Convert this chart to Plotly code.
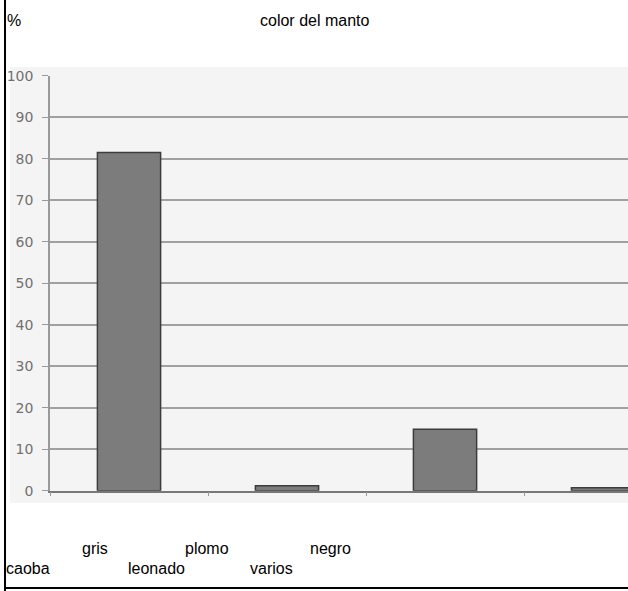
import plotly.graph_objects as go

# Bar heights (%) for the four bars of "color del manto"
bar_slots = ["1", "2", "3", "4"]
bar_values = [81.5, 1.2, 14.8, 0.7]

# Y tick values
y_ticks = [0, 10, 20, 30, 40, 50, 60, 70, 80, 90, 100]

# Category names printed under the chart, in two staggered rows
labels_top = ["gris", "plomo", "negro"]
labels_bottom = ["caoba", "leonado", "varios"]

W, H = 628, 591


def px_x(x):
    return x / W


def px_y(y):
    return 1 - y / H


fig = go.Figure()
fig.add_trace(go.Bar(
    x=bar_slots,
    y=bar_values,
    width=0.4,
    marker=dict(color="#7c7c7c", line=dict(color="#3c3c3c", width=1.5)),
    hoverinfo="skip",
))

shapes = [
    # light grey scanned panel behind the chart
    dict(type="rect", xref="paper", yref="paper", layer="below",
         x0=px_x(10), x1=1.0, y0=px_y(503), y1=px_y(67),
         fillcolor="#f4f4f4", line=dict(width=0)),
    # frame lines of the page
    dict(type="line", xref="paper", yref="paper",
         x0=px_x(5), x1=px_x(5), y0=0, y1=1,
         line=dict(color="black", width=2)),
    dict(type="line", xref="paper", yref="paper",
         x0=px_x(5), x1=1.0, y0=px_y(588), y1=px_y(588),
         line=dict(color="black", width=2)),
]

annotations = [
    dict(text="%", x=px_x(5), y=px_y(20), xanchor="left", yanchor="middle"),
    dict(text="color del manto", x=0.5, y=px_y(20), xanchor="center", yanchor="middle"),
]
for name, left in zip(labels_top, [80, 183, 308]):
    annotations.append(dict(text=name, x=px_x(left), y=px_y(548),
                            xanchor="left", yanchor="middle"))
for name, left in zip(labels_bottom, [4, 126, 248]):
    annotations.append(dict(text=name, x=px_x(left), y=px_y(568),
                            xanchor="left", yanchor="middle"))
for a in annotations:
    a.update(xref="paper", yref="paper", showarrow=False,
             font=dict(family="Liberation Sans, Arial", size=16, color="black"))

fig.update_layout(
    width=W, height=H,
    margin=dict(l=0, r=0, t=0, b=0, pad=0),
    paper_bgcolor="white",
    plot_bgcolor="rgba(0,0,0,0)",
    showlegend=False,
    shapes=shapes,
    annotations=annotations,
    xaxis=dict(
        domain=[px_x(50), 1.0],
        type="category",
        range=[-0.5, 3.158],
        automargin=False,
        showticklabels=False,
        showgrid=False,
        ticks="outside", tickson="boundaries", ticklen=4,
        tickcolor="#999999",
        showline=True, linecolor="#777777", linewidth=1.5,
        zeroline=False,
    ),
    yaxis=dict(
        domain=[px_y(490.7), px_y(75.7)],
        range=[0, 100],
        automargin=False,
        tickvals=y_ticks,
        ticks="outside", ticklen=6, tickcolor="#999999",
        ticklabelstandoff=6,
        tickfont=dict(family="DejaVu Sans", size=14, color="#707070"),
        showgrid=True, gridcolor="#a0a0a0", gridwidth=1.5,
        showline=True, linecolor="#999999", linewidth=1.5,
        zeroline=False,
    ),
)

fig.write_html("out.html")
